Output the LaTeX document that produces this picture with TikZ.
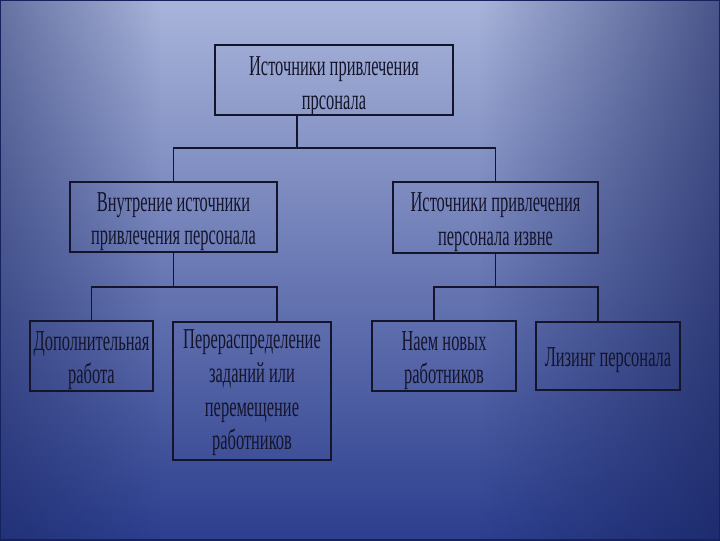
\documentclass[tikz,border=0pt]{standalone}
\usepackage{fontspec}
\setmainfont{Liberation Serif}[FakeStretch=0.57]
\usetikzlibrary{positioning,calc,fadings}
\definecolor{bgtop}{HTML}{A8B4DA}
\definecolor{bgbot}{HTML}{2C3E8E}
\definecolor{bgdark}{HTML}{16225E}
\definecolor{ink}{HTML}{14142A}
\newcommand\lines[2][-3pt]{\raisebox{#1}[\height][\depth]{\begin{tabular}{@{}c@{}}#2\end{tabular}}}

\begin{document}
\begin{tikzpicture}[x=0.025cm,y=-0.025cm,font=\fontsize{20.5}{24}\selectfont,
		box/.style={draw=ink,line width=1.3pt,inner sep=1pt,text=ink,minimum height=1.75cm},
		ln/.style={draw=ink,line width=1.3pt}]
		\useasboundingbox (0,0) rectangle (720,540);
		\shade[top color=bgtop,bottom color=bgbot] (0,0) rectangle (720,540);
		\fill[bgdark,path fading=west,fill opacity=0.65] (480,0) rectangle (720,540);
		\fill[bgdark,path fading=east,fill opacity=0.45] (0,0) rectangle (160,540);
		\draw[bgdark,line width=1.5pt] (0,0) rectangle (720,540);
		\node[box,minimum width=5.95cm] (src) at (334,80) {\lines[-4.3pt]{Источники привлечения\\прсонала}};
		\node[box,minimum width=5.175cm] (inner) at (173.5,217) {\lines{Внутрение источники\\привлечения персонала}};
		\node[box,minimum width=5.125cm] (outer) at (495.5,217.5) {\lines{Источники привлечения\\персонала извне}};
		\node[box,minimum width=3.075cm,minimum height=1.7cm] (extra) at (91.5,356) {\lines{Дополнительная\\работа}};
		\node[box,minimum width=3.95cm,minimum height=3.45cm] (redist) at (252,391) {\lines[-1pt]{Перераспределение\\заданий или\\перемещение\\работников}};
		\node[box,minimum width=3.6cm,minimum height=1.7cm] (hire) at (444,356) {\lines{Наем новых\\работников}};
		\node[box,minimum width=3.6cm,minimum height=1.7cm] (lease) at (608,356) {\lines{Лизинг персонала}};
		\coordinate (j1) at (297,148);
		\coordinate (j2) at (173.5,287);
		\coordinate (k2) at (277,287);
		\coordinate (j3) at (495.5,287);
		\coordinate (k3) at (434,287);
		\coordinate (k4) at (598,287);
		\draw[ln] (src.south -| j1) -- (j1);
		\draw[ln] (inner.north) |- (j1) -| (outer.north);
		\draw[ln] (inner.south) -- (j2);
		\draw[ln] (extra.north) |- (j2) -- (k2) -- (k2 |- redist.north);
		\draw[ln] (outer.south) -- (j3);
		\draw[ln] (k3 |- hire.north) -- (k3) -- (k4) -- (k4 |- lease.north);
	\end{tikzpicture}
\end{document}
